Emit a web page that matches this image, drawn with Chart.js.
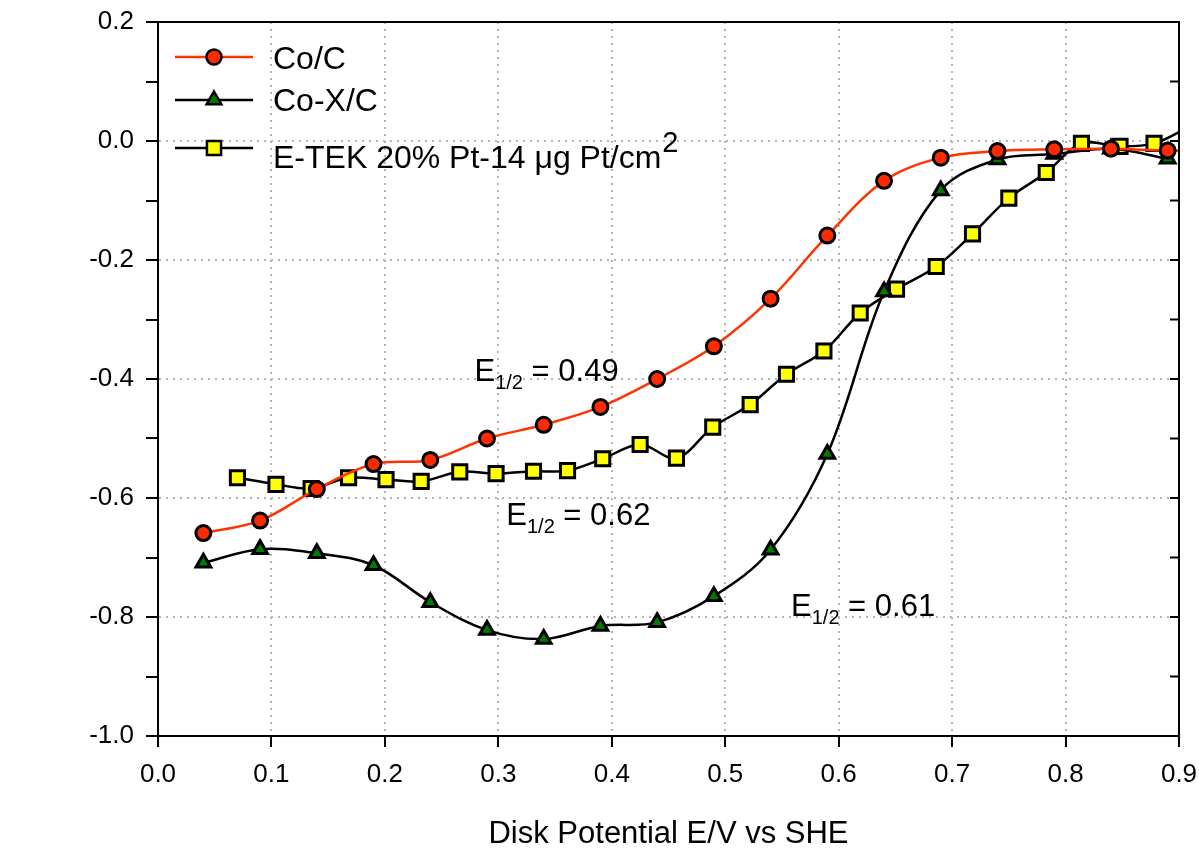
<!DOCTYPE html>
<html>
<head>
<meta charset="utf-8">
<script src="https://cdn.jsdelivr.net/npm/chart.js@4"></script>
<style>
  body { margin: 0; background: #fff; }
  #wrap { width: 1199px; height: 849px; }
</style>
</head>
<body>
<div id="wrap"><canvas id="rde" width="1199" height="849"></canvas></div>
<script>
// Disk potential (V vs SHE) and disk current for each catalyst
var coX = [0.04, 0.09, 0.14, 0.19, 0.24, 0.29, 0.34, 0.39, 0.44, 0.49, 0.54, 0.59, 0.64, 0.69, 0.74, 0.79, 0.84, 0.89, 0.94];
var coC = [-0.659, -0.638, -0.585, -0.543, -0.536, -0.500, -0.477, -0.447, -0.400, -0.345, -0.265, -0.159, -0.067, -0.028, -0.017, -0.014, -0.013, -0.016, -0.016];
var coXC = [-0.709, -0.686, -0.693, -0.713, -0.775, -0.822, -0.837, -0.815, -0.809, -0.765, -0.687, -0.526, -0.253, -0.083, -0.031, -0.022, -0.013, -0.030];

var etekX = [0.070, 0.104, 0.135, 0.168, 0.201, 0.232, 0.266, 0.298, 0.331, 0.361, 0.392, 0.425, 0.457, 0.489, 0.522, 0.554, 0.587, 0.619, 0.651, 0.686, 0.718, 0.750, 0.783, 0.814, 0.848, 0.878, 0.910];
var etek = [-0.566, -0.577, -0.584, -0.566, -0.569, -0.572, -0.556, -0.559, -0.555, -0.554, -0.534, -0.510, -0.533, -0.481, -0.443, -0.392, -0.353, -0.289, -0.249, -0.211, -0.156, -0.096, -0.053, -0.004, -0.009, -0.004, 0.025];

// labels and where they sit (data units)
var seriesNames = ['Co/C', 'Co-X/C', 'E-TEK 20% Pt-14 \u03bcg Pt/cm'];
var halfWave = [
    { x: 0.279, y: -0.403, text: ' = 0.49' },
    { x: 0.307, y: -0.646, text: ' = 0.62' },
    { x: 0.558, y: -0.798, text: ' = 0.61' }
];

var FONT = '"Liberation Sans", Arial, sans-serif';

function pts(xs, ys) {
    return ys.map(function (v, i) { return { x: xs[i], y: v }; });
}

function marker(ctx, style, x, y, r, fill) {
    ctx.beginPath();
    if (style === 'circle') {
        ctx.arc(x, y, r, 0, Math.PI * 2);
    } else if (style === 'triangle') {
        ctx.moveTo(x, y - r);
        ctx.lineTo(x + r * 0.866, y + r * 0.5);
        ctx.lineTo(x - r * 0.866, y + r * 0.5);
        ctx.closePath();
    } else {
        var s = r * 0.707;
        ctx.rect(x - s, y - s, s * 2, s * 2);
    }
    ctx.fillStyle = fill;
    ctx.fill();
    ctx.lineWidth = 2.5;
    ctx.strokeStyle = '#000';
    ctx.stroke();
}

var extras = {
    id: 'extras',
    afterDraw: function (chart) {
        var ctx = chart.ctx, a = chart.chartArea;
        var xs = chart.scales.x, ys = chart.scales.y;
        ctx.save();

        // frame on top and right, ticks pointing inwards on the right
        ctx.strokeStyle = '#000';
        ctx.lineWidth = 2;
        ctx.beginPath();
        ctx.moveTo(a.left, a.top);
        ctx.lineTo(a.right, a.top);
        ctx.lineTo(a.right, a.bottom);
        for (var k = -10; k <= 2; k++) {
            var py = ys.getPixelForValue(k / 10);
            ctx.moveTo(a.right, py);
            ctx.lineTo(a.right - 9, py);
        }
        ctx.stroke();

        // E1/2 notes
        ctx.fillStyle = '#000';
        ctx.textBaseline = 'alphabetic';
        halfWave.forEach(function (h) {
            var px = xs.getPixelForValue(h.x), py = ys.getPixelForValue(h.y);
            ctx.font = '31px ' + FONT;
            ctx.fillText('E', px, py);
            px += ctx.measureText('E').width;
            ctx.font = '20px ' + FONT;
            ctx.fillText('1/2', px, py + 8);
            px += ctx.measureText('1/2').width;
            ctx.font = '31px ' + FONT;
            ctx.fillText(h.text, px, py);
        });

        // legend inside the plot
        var rows = [57, 100, 148];
        var base = [69, 111, 168];
        chart.data.datasets.forEach(function (ds, i) {
            ctx.beginPath();
            ctx.moveTo(175, rows[i]);
            ctx.lineTo(253, rows[i]);
            ctx.strokeStyle = ds.borderColor;
            ctx.lineWidth = 2.5;
            ctx.stroke();
            marker(ctx, ds.pointStyle, 214, rows[i], ds.pointRadius, ds.pointBackgroundColor);
            ctx.fillStyle = '#000';
            ctx.font = '32px ' + FONT;
            ctx.fillText(seriesNames[i], 273, base[i]);
            if (i === 2) {
                var w = ctx.measureText(seriesNames[i]).width;
                ctx.font = '29px ' + FONT;
                ctx.fillText('2', 273 + w + 1, base[i] - 16);
            }
        });
        ctx.restore();
    }
};

function lineSet(label, data, line, fill, style, r) {
    return {
        label: label,
        data: data,
        borderColor: line,
        borderWidth: 2.5,
        tension: 0.35,
        pointStyle: style,
        pointRadius: r,
        pointBackgroundColor: fill,
        pointBorderColor: '#000',
        pointBorderWidth: 3
    };
}

var ctx = document.getElementById('rde').getContext('2d');
var chart = new Chart(ctx, {
    type: 'line',
    data: {
        datasets: [
            lineSet('Co/C', pts(coX, coC), '#ff3300', '#ff2a00', 'circle', 7.5),
            lineSet('Co-X/C', pts(coX, coXC), '#000000', '#007a00', 'triangle', 8.5),
            lineSet('E-TEK', pts(etekX, etek), '#000000', '#ffff00', 'rect', 10)
        ]
    },
    plugins: [extras],
    options: {
        responsive: false,
        animation: false,
        layout: { padding: { top: 22, right: 20, left: 0, bottom: 0 } },
        plugins: { legend: { display: false }, tooltip: { enabled: false } },
        scales: {
            x: {
                type: 'linear',
                min: 0, max: 0.9,
                afterFit: function (s) { s.height = 113; s.paddingLeft = 0; s.paddingRight = 0; },
                ticks: {
                    stepSize: 0.1,
                    color: '#000',
                    padding: 12,
                    maxRotation: 0,
                    font: { family: FONT, size: 26 },
                    callback: function (v) { return v.toFixed(1); }
                },
                grid: {
                    color: function (c) {
                        var t = c.tick ? Math.round(c.tick.value * 10) : 0;
                        return (t > 0 && t < 9) ? '#b4b4b4' : 'rgba(0,0,0,0)';
                    },
                    lineWidth: 2,
                    tickColor: '#000',
                    tickLength: 11,
                    tickWidth: 2
                },
                border: { color: '#000', width: 2, dash: [2, 5] },
                title: {
                    display: true,
                    text: 'Disk Potential E/V vs SHE',
                    color: '#000',
                    font: { family: FONT, size: 31 },
                    padding: { top: 0, bottom: -4 }
                }
            },
            y: {
                min: -1.0, max: 0.2,
                afterFit: function (s) { s.width = 158; s.paddingTop = 0; s.paddingBottom = 0; },
                ticks: {
                    stepSize: 0.1,
                    color: '#000',
                    padding: 12,
                    font: { family: FONT, size: 26 },
                    callback: function (v) {
                        var t = Math.round(v * 10);
                        return t % 2 === 0 ? (t / 10).toFixed(1) : '';
                    }
                },
                grid: {
                    color: function (c) {
                        var t = c.tick ? Math.round(c.tick.value * 10) : 1;
                        return (t % 2 === 0 && t > -10 && t < 2) ? '#b4b4b4' : 'rgba(0,0,0,0)';
                    },
                    lineWidth: 2,
                    tickColor: '#000',
                    tickLength: 12,
                    tickWidth: 2
                },
                border: { color: '#000', width: 2, dash: [2, 5] }
            }
        }
    }
});
</script>
</body>
</html>
